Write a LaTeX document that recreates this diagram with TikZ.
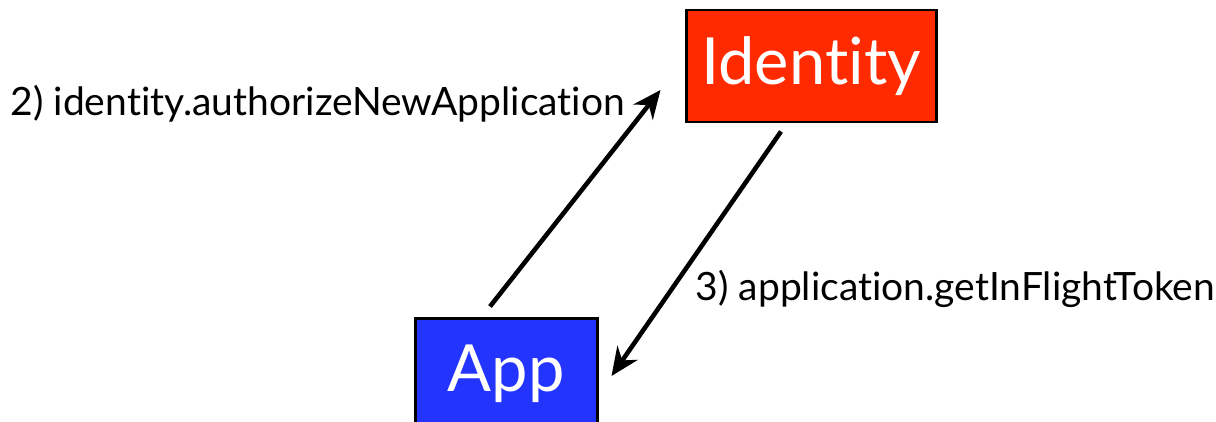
\documentclass[tikz,border=0pt]{standalone}
\usepackage{fontspec}
\setmainfont{Lato}[Ligatures=NoCommon]
\usetikzlibrary{arrows.meta,calc}
\definecolor{red@Id}{RGB}{255, 42, 0}
\definecolor{blue@App}{RGB}{36, 52, 255}

\begin{document}
\begin{tikzpicture}[font=\fontsize{11.1}{13}\selectfont]
  \tikzstyle{box}=[draw=black, line width=0.85pt, text=white, inner sep=0pt,
                   font=\fontsize{18.5}{22}\selectfont]
  \tikzstyle{msg} = [draw, -{Stealth[length=8pt,width=7pt]}, black, line width=1.3pt]
  \tikzstyle{label} = [inner sep=0pt, anchor=base west]

  \useasboundingbox (0,0) rectangle (12.16,4.21);

  % the two parties
  \node[box, fill=red@Id, minimum width=2.50cm, minimum height=1.12cm] (identity) at (8.11,3.55) {Identity};
  \node[box, fill=blue@App, minimum width=1.82cm, minimum height=1.12cm] (app) at (5.06,0.47) {App};

  % free ends of the calls
  \coordinate (c2s) at ($(app.north)+(-0.16,0.10)$);
  \coordinate (c2e) at ($(identity.west)+(-0.24,-0.24)$);
  \coordinate (c3s) at ($(identity.south)+(-0.30,-0.08)$);
  \coordinate (c3e) at ($(app.east)+(0.13,-0.02)$);

  % calls
  \foreach \source/ \dest in
    {
      c2s/c2e,
      c3s/c3e%
    }
    \path[msg] (\source) -- (\dest);

  \node[label] (call2) at (0.10,3.06) {2) identity.authorizeNewApplication};
  \node[label] (call3) at (6.95,1.21) {3) application.getInFlightToken};

\end{tikzpicture}
\end{document}
